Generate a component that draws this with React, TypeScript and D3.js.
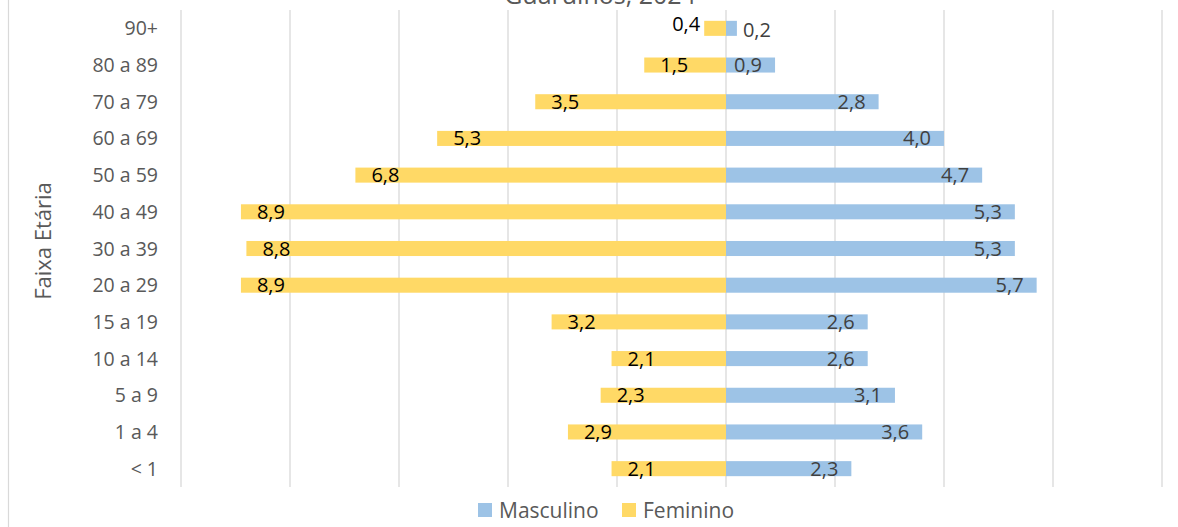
import { useRef, useEffect } from 'react';
import * as d3 from 'd3';

const ageGroups = ['90+', '80 a 89', '70 a 79', '60 a 69', '50 a 59', '40 a 49', '30 a 39', '20 a 29', '15 a 19', '10 a 14', '5 a 9', '1 a 4', '< 1'];
const masculino = [0.2, 0.9, 2.8, 4.0, 4.7, 5.3, 5.3, 5.7, 2.6, 2.6, 3.1, 3.6, 2.3];
const feminino = [0.4, 1.5, 3.5, 5.3, 6.8, 8.9, 8.8, 8.9, 3.2, 2.1, 2.3, 2.9, 2.1];
const xTicks = [-10, -8, -6, -4, -2, 0, 2, 4, 6, 8];

const C = {
  blue: '#9DC3E6',
  yellow: '#FFD966',
  grid: '#D9D9D9',
  text: '#595959',
  maleLabel: '#404040',
  femaleLabel: '#000000',
  font: '"Open Sans", sans-serif',
};

const fmt = (v: number) => v.toFixed(1).replace('.', ',');

export default function App() {
  const svgRef = useRef<SVGSVGElement>(null);

  useEffect(() => {
    if (!svgRef.current) return;
    const W = 1178, H = 527;
    const svg = d3.select(svgRef.current);
    svg.selectAll('*').remove();
    svg.attr('width', W).attr('height', H).attr('viewBox', `0 0 ${W} ${H}`);

    const x = d3.scaleLinear().domain([-10, 8]).range([181, 1162]);
    const y = d3.scaleBand().domain(ageGroups).range([10, 487]).paddingInner(0.59).paddingOuter(0.295);
    const bw = y.bandwidth();

    // chart frame (only the left edge shows)
    svg.append('line').attr('x1', 8.5).attr('x2', 8.5).attr('y1', 0).attr('y2', H)
      .attr('stroke', C.grid).attr('stroke-width', 1.2);

    // title, cut off at the top like the source
    svg.append('text').attr('x', 600).attr('y', 4).attr('text-anchor', 'middle')
      .attr('fill', C.text).attr('font-family', C.font).attr('font-size', 25)
      .text('Guarulhos, 2024');

    // vertical grid lines
    svg.append('g').selectAll('line').data(xTicks).join('line')
      .attr('x1', d => x(d)).attr('x2', d => x(d))
      .attr('y1', 10).attr('y2', 487)
      .attr('stroke', C.grid).attr('stroke-width', 1.3);

    // bars
    const rows = ageGroups.map((g, i) => ({ g, m: masculino[i], f: feminino[i] }));
    svg.append('g').selectAll('rect').data(rows).join('rect')
      .attr('x', d => x(-d.f)).attr('width', d => x(0) - x(-d.f))
      .attr('y', d => y(d.g)!).attr('height', bw)
      .attr('fill', C.yellow);
    svg.append('g').selectAll('rect').data(rows).join('rect')
      .attr('x', x(0)).attr('width', d => x(d.m) - x(0))
      .attr('y', d => y(d.g)!).attr('height', bw)
      .attr('fill', C.blue);

    // data labels
    const labelSize = 20;
    svg.append('g').selectAll('text').data(rows).join('text')
      .attr('font-family', C.font).attr('font-size', labelSize).attr('fill', C.femaleLabel)
      .attr('x', d => {
        const left = x(-d.f);
        return x(0) - left < 40 ? left - 4 : left + 16;
      })
      .attr('text-anchor', d => (x(0) - x(-d.f) < 40 ? 'end' : 'start'))
      .attr('y', d => y(d.g)! + bw / 2 + 7 - (x(0) - x(-d.f) < 40 ? 4 : 0))
      .text(d => fmt(d.f));
    svg.append('g').selectAll('text').data(rows).join('text')
      .attr('font-family', C.font).attr('font-size', labelSize).attr('fill', C.maleLabel)
      .attr('x', d => {
        const right = x(d.m);
        return right - x(0) < 25 ? right + 6 : right - 13;
      })
      .attr('text-anchor', d => (x(d.m) - x(0) < 25 ? 'start' : 'end'))
      .attr('y', d => y(d.g)! + bw / 2 + 7 + (x(d.m) - x(0) < 25 ? 2 : 0))
      .text(d => fmt(d.m));

    // category labels
    svg.append('g').selectAll('text').data(ageGroups).join('text')
      .attr('x', 158).attr('y', d => y(d)! + bw / 2 + 7)
      .attr('text-anchor', 'end')
      .attr('font-family', C.font).attr('font-size', 19.5).attr('fill', C.text)
      .text(d => d);

    // axis title
    svg.append('text')
      .attr('transform', 'translate(51,241) rotate(-90)')
      .attr('text-anchor', 'middle')
      .attr('font-family', C.font).attr('font-size', 22).attr('fill', C.text)
      .text('Faixa Etária');

    // legend
    const legend = [
      { name: 'Masculino', color: C.blue, x: 478 },
      { name: 'Feminino', color: C.yellow, x: 622 },
    ];
    const lg = svg.append('g').selectAll('g').data(legend).join('g')
      .attr('transform', d => `translate(${d.x},503)`);
    lg.append('rect').attr('width', 14).attr('height', 14).attr('fill', d => d.color);
    lg.append('text').attr('x', 21).attr('y', 15)
      .attr('font-family', C.font).attr('font-size', 21).attr('fill', C.text)
      .text(d => d.name);
  }, []);

  return <svg ref={svgRef} style={{ position: 'absolute', left: 0, top: 0, background: '#fff' }} />;
}
